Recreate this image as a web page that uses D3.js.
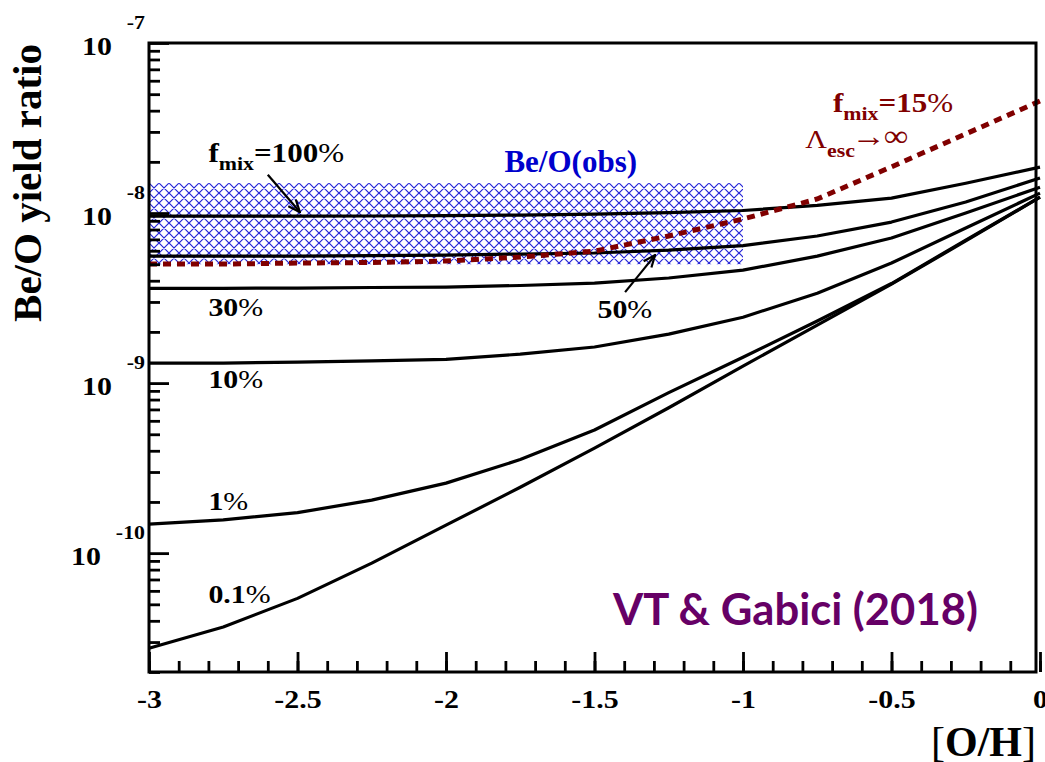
<!DOCTYPE html>
<html>
<head>
<meta charset="utf-8">
<script src="https://cdn.jsdelivr.net/npm/d3@7"></script>
<style>
  body { margin: 0; background: #fff; }
  .root { font-family: "Liberation Serif", "Times New Roman", serif; font-weight: bold; }
</style>
</head>
<body>
<div class="chart"></div>
<script>
// [O/H] grid of the model curves
let oh = [-3, -2.75, -2.5, -2.25, -2, -1.75, -1.5, -1.25, -1, -0.75, -0.5, -0.25, 0];

// Be/O yield ratio for each mixing fraction
let mix100 = [9.59e-9, 9.59e-9, 9.59e-9, 9.61e-9, 9.66e-9, 9.72e-9, 9.86e-9, 1.005e-8, 1.035e-8, 1.109e-8, 1.225e-8, 1.496e-8, 1.862e-8];
let mix50 = [5.58e-9, 5.58e-9, 5.58e-9, 5.62e-9, 5.66e-9, 5.74e-9, 5.82e-9, 6.05e-9, 6.44e-9, 7.33e-9, 8.85e-9, 1.161e-8, 1.607e-8];
let mix30 = [3.61e-9, 3.61e-9, 3.62e-9, 3.65e-9, 3.67e-9, 3.75e-9, 3.87e-9, 4.15e-9, 4.62e-9, 5.58e-9, 7.13e-9, 1.0e-8, 1.42e-8];
let mix10 = [1.31e-9, 1.31e-9, 1.33e-9, 1.35e-9, 1.38e-9, 1.48e-9, 1.63e-9, 1.94e-9, 2.44e-9, 3.38e-9, 5.08e-9, 8.17e-9, 1.31e-8];
let mix1 = [1.48e-10, 1.57e-10, 1.73e-10, 2.05e-10, 2.58e-10, 3.55e-10, 5.30e-10, 8.79e-10, 1.42e-9, 2.32e-9, 3.85e-9, 6.93e-9, 1.24e-8];
let mix01 = [2.76e-11, 3.68e-11, 5.42e-11, 8.73e-11, 1.46e-10, 2.44e-10, 4.15e-10, 7.16e-10, 1.26e-9, 2.19e-9, 3.82e-9, 6.85e-9, 1.24e-8];

// f_mix = 15%, Lambda_esc -> infinity
let mix15inf = [5.01e-9, 5.01e-9, 5.08e-9, 5.12e-9, 5.22e-9, 5.51e-9, 5.97e-9, 7.33e-9, 9.23e-9, 1.21e-8, 1.87e-8, 2.92e-8, 4.56e-8];

// observed Be/O band
let obsOH = [-3, -1];
let obsRatio = [5e-9, 1.5e-8];

let xTicks = [-3, -2.5, -2, -1.5, -1, -0.5, 0];
let xTickLabels = ["-3", "-2.5", "-2", "-1.5", "-1", "-0.5", "0"];
let yTicks = [1e-7, 1e-8, 1e-9, 1e-10];
let yTickExp = ["-7", "-8", "-9", "-10"];

let svgWidth = 1045;
let svgHeight = 762;
let margin = { top: 43, right: 5, bottom: 90, left: 149 };
let width = svgWidth - margin.left - margin.right;
let height = svgHeight - margin.top - margin.bottom;
let sx = 1.15; // the ROOT labels are drawn a bit wide

let svg = d3.select(".chart")
  .append("svg")
  .attr("width", svgWidth)
  .attr("height", svgHeight);

let defs = svg.append("defs");
let hatch = defs.append("pattern")
  .attr("id", "hatch")
  .attr("patternUnits", "userSpaceOnUse")
  .attr("width", 10)
  .attr("height", 10);
hatch.append("path")
  .attr("d", "M0,0L10,10M10,0L0,10M-1,9L1,11M9,-1L11,1M-1,1L1,-1M9,11L11,9")
  .attr("stroke", "#2424d8")
  .attr("stroke-width", 1.2);

defs.append("marker")
  .attr("id", "arrow")
  .attr("markerUnits", "userSpaceOnUse")
  .attr("viewBox", "0 0 14 12")
  .attr("markerWidth", 14)
  .attr("markerHeight", 12)
  .attr("refX", 13)
  .attr("refY", 6)
  .attr("orient", "auto")
  .append("path")
  .attr("d", "M1,1L13,6L1,11")
  .attr("fill", "none")
  .attr("stroke", "#000")
  .attr("stroke-width", 2.2);

let chartGroup = svg.append("g")
  .attr("transform", `translate(${margin.left}, ${margin.top})`);

let x = d3.scaleLinear().domain([-3, 0]).range([0, width]);
let y = d3.scaleLog().domain([2e-11, 1e-7]).range([height, 0]);

// observed band
chartGroup.append("rect")
  .attr("x", x(obsOH[0]))
  .attr("width", x(obsOH[1]) - x(obsOH[0]))
  .attr("y", y(obsRatio[1]))
  .attr("height", y(obsRatio[0]) - y(obsRatio[1]))
  .attr("fill", "url(#hatch)");

// model curves
let line = d3.line()
  .x((d, i) => x(oh[i]))
  .y(d => y(d));

[mix100, mix50, mix30, mix10, mix1, mix01].forEach(function(series) {
  chartGroup.append("path")
    .attr("d", line(series))
    .attr("fill", "none")
    .attr("stroke", "#000")
    .attr("stroke-width", 3.2)
    .attr("stroke-linejoin", "round");
});

chartGroup.append("path")
  .attr("d", line(mix15inf))
  .attr("fill", "none")
  .attr("stroke", "#800000")
  .attr("stroke-width", 5)
  .attr("stroke-dasharray", "8,6");

// axes: minor and major ticks point inward
let xMinor = d3.range(-3, 0.001, 0.1).map(v => +v.toFixed(1));
chartGroup.append("g")
  .attr("transform", `translate(0, ${height})`)
  .call(d3.axisBottom(x).tickValues(xMinor).tickSize(-11).tickSizeOuter(0).tickFormat(""))
  .call(g => g.select(".domain").remove());

let xAxis = chartGroup.append("g")
  .attr("transform", `translate(0, ${height})`)
  .call(d3.axisBottom(x).tickValues(xTicks).tickSize(-20).tickSizeOuter(0)
    .tickFormat((d, i) => xTickLabels[i]));
xAxis.select(".domain").remove();
xAxis.selectAll("text")
  .attr("y", null)
  .attr("dy", null)
  .attr("class", "root")
  .attr("font-size", 26)
  .attr("fill", "#000")
  .attr("transform", `translate(0, 36) scale(${sx}, 1)`);

let yMinor = [];
for (let e = -11; e < -7; e++) {
  for (let m = 2; m <= 9; m++) {
    let v = m * Math.pow(10, e);
    if (v >= 2e-11 && v < 1e-7) yMinor.push(v);
  }
}
chartGroup.append("g")
  .call(d3.axisLeft(y).tickValues(yMinor).tickSize(-11).tickSizeOuter(0).tickFormat(""))
  .call(g => g.select(".domain").remove());

let yAxis = chartGroup.append("g")
  .call(d3.axisLeft(y).tickValues(yTicks).tickSize(-20).tickSizeOuter(0).tickFormat(""));
yAxis.select(".domain").remove();
yAxis.selectAll(".tick").each(function(d, i) {
  let t = d3.select(this).append("text")
    .attr("class", "root")
    .attr("fill", "#000")
    .attr("text-anchor", "end")
    .attr("transform", `translate(-4, 11) scale(${sx}, 1)`);
  t.append("tspan").attr("font-size", 26).text("10");
  t.append("tspan").attr("font-size", 19).attr("dx", 13).attr("dy", -26).text(yTickExp[i]);
});

chartGroup.selectAll(".tick line")
  .attr("stroke", "#000")
  .attr("stroke-width", 2.8);

// frame
chartGroup.append("rect")
  .attr("width", width - 4)
  .attr("height", height)
  .attr("fill", "none")
  .attr("stroke", "#000")
  .attr("stroke-width", 3);

// axis titles
svg.append("text")
  .attr("class", "root")
  .attr("font-size", 41)
  .attr("text-anchor", "middle")
  .attr("transform", "translate(41, 183) rotate(-90)")
  .text("Be/O yield ratio");

let ohTitle = svg.append("text")
  .attr("class", "root")
  .attr("font-size", 42)
  .attr("text-anchor", "end")
  .attr("x", margin.left + width - 4)
  .attr("y", 756);
ohTitle.append("tspan").attr("font-weight", "normal").text("[");
ohTitle.append("tspan").text("O/H");
ohTitle.append("tspan").attr("font-weight", "normal").text("]");

// annotations
function wideText(px, py, color) {
  return chartGroup.append("text")
    .attr("class", "root")
    .attr("fill", color)
    .attr("transform", `translate(${px}, ${py}) scale(${sx}, 1)`);
}

function fmix(px, py, value, color) {
  let t = wideText(px, py, color).attr("font-size", 27);
  t.append("tspan").text("f");
  t.append("tspan").attr("font-size", 19).attr("dy", 8).text("mix");
  t.append("tspan").attr("dy", -8).text("=" + value);
  t.append("tspan").attr("font-weight", "normal").text("%");
}

function pct(px, py, value) {
  let t = wideText(px, py, "#000").attr("font-size", 26);
  t.append("tspan").text(value);
  t.append("tspan").attr("font-weight", "normal").text("%");
}

fmix(x(-2.8), y(2.0e-8), "100", "#000");
pct(x(-2.8), y(2.48e-9), "30");
pct(x(-2.8), y(9.35e-10), "10");
pct(x(-2.8), y(1.79e-10), "1");
pct(x(-2.8), y(5.08e-11), "0.1");
pct(x(-1.49), y(2.41e-9), "50");

fmix(x(-0.697), y(3.93e-8), "15", "#800000");
let lam = wideText(x(-0.79), y(2.40e-8), "#800000").attr("font-size", 26);
lam.append("tspan").attr("font-weight", "normal").text("Λ");
lam.append("tspan").attr("font-size", 19).attr("dy", 9).text("esc");
lam.append("tspan").attr("dy", -11).attr("dx", -3).attr("font-size", 30).attr("font-weight", "normal").text("→");
lam.append("tspan").attr("dx", -2).attr("font-size", 30).attr("font-weight", "normal").text("∞");

chartGroup.append("text")
  .attr("class", "root")
  .attr("fill", "#0000cc")
  .attr("font-size", 31)
  .attr("text-anchor", "middle")
  .attr("x", x(-1.58))
  .attr("y", y(1.74e-8))
  .text("Be/O(obs)");

chartGroup.append("text")
  .attr("font-family", "Lato, 'Open Sans', sans-serif")
  .attr("font-weight", "bold")
  .attr("fill", "#660066")
  .attr("font-size", 43)
  .attr("x", x(-1.438))
  .attr("y", y(3.77e-11))
  .attr("textLength", 365)
  .attr("lengthAdjust", "spacingAndGlyphs")
  .text("VT & Gabici (2018)");

// arrows
[[[-2.6, 1.68e-8], [-2.492, 1.014e-8]], [[-1.397, 3.43e-9], [-1.296, 5.66e-9]]].forEach(function(a) {
  chartGroup.append("line")
    .attr("x1", x(a[0][0])).attr("y1", y(a[0][1]))
    .attr("x2", x(a[1][0])).attr("y2", y(a[1][1]))
    .attr("stroke", "#000")
    .attr("stroke-width", 2.2)
    .attr("marker-end", "url(#arrow)");
});
</script>
</body>
</html>
